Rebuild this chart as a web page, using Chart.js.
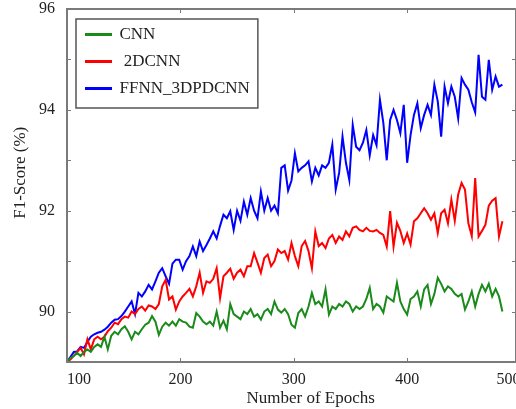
<!DOCTYPE html>
<html>
<head>
<meta charset="utf-8">
<script src="https://cdn.jsdelivr.net/npm/chart.js@4.4.1/dist/chart.umd.min.js"></script>
<style>
  html, body { margin: 0; padding: 0; background: #fff; overflow: hidden; }
  #wrap { position: relative; width: 516px; height: 409px; }
</style>
</head>
<body>
<div id="wrap"><canvas id="chart"></canvas></div>
<script>
const epochs = [
  100, 103, 106, 109, 112, 115, 118, 121, 124, 127,
  130, 133, 136, 139, 142, 145, 148, 151, 154, 157,
  160, 163, 166, 169, 172, 175, 178, 181, 184, 187,
  190, 193, 196, 199, 202, 205, 208, 211, 214, 217,
  220, 223, 226, 229, 232, 235, 238, 241, 244, 247,
  250, 253, 256, 259, 262, 265, 268, 271, 274, 277,
  280, 283, 286, 289, 292, 295, 298, 301, 304, 307,
  310, 313, 316, 319, 322, 325, 328, 331, 334, 337,
  340, 343, 346, 349, 352, 355, 358, 361, 364, 367,
  370, 373, 376, 379, 382, 385, 388, 391, 394, 397,
  400, 403, 406, 409, 412, 415, 418, 421, 424, 427,
  430, 433, 436, 439, 442, 445, 448, 451, 454, 457,
  460, 463, 466, 469, 472, 475, 478, 481, 484
];

const cnn = [
  89.0, 89.08, 89.12, 89.18, 89.12, 89.2, 89.25, 89.2, 89.3, 89.35,
  89.3, 89.5, 89.25, 89.52, 89.6, 89.55, 89.65, 89.71, 89.6, 89.45,
  89.6, 89.55, 89.65, 89.74, 89.78, 89.91, 89.8, 89.54, 89.7, 89.78,
  89.72, 89.8, 89.72, 89.85, 89.8, 89.78, 89.7, 89.68, 89.97, 89.9,
  89.8, 89.75, 89.8, 89.72, 90.0, 89.68, 89.82, 89.65, 90.15, 89.95,
  89.9, 89.85, 90.0, 89.95, 90.05, 89.9, 89.95, 89.84, 90.0, 90.05,
  89.95, 90.2, 90.04, 89.98, 90.05, 89.95, 89.74, 89.68, 89.97, 90.05,
  89.9, 90.1, 90.37, 90.15, 90.2, 90.1, 90.44, 89.94, 90.1, 90.05,
  90.15, 90.1, 90.2, 90.15, 90.0, 90.1, 90.05, 90.1, 90.25, 90.47,
  90.05, 90.15, 90.1, 89.98, 90.3, 90.25, 90.2, 90.57, 90.2, 90.05,
  89.94, 90.25, 90.3, 90.4, 90.1, 90.44, 90.53, 90.15, 90.35, 90.67,
  90.55, 90.4, 90.5, 90.45, 90.35, 90.3, 90.35, 90.04, 90.2, 90.4,
  90.1, 90.35, 90.53, 90.4, 90.55, 90.3, 90.45, 90.3, 90.0
];

const cnn2d = [
  89.0, 89.05, 89.12, 89.2, 89.28, 89.15, 89.45, 89.25, 89.45, 89.5,
  89.45, 89.5, 89.61, 89.68, 89.78, 89.75, 89.85, 89.9, 89.88, 90.0,
  89.95, 90.05, 90.1, 90.02, 90.12, 90.1, 90.05, 90.15, 90.5, 90.63,
  90.24, 90.3, 90.04, 90.2, 90.3, 90.37, 90.45, 90.3, 90.5, 90.77,
  90.37, 90.6, 90.57, 90.65, 90.86, 90.27, 90.7, 90.77, 90.85, 90.65,
  90.77, 90.83, 90.7, 90.9, 90.9, 91.16, 90.97, 90.77, 91.06, 91.13,
  90.9, 91.0, 91.23, 91.16, 91.2, 91.03, 91.36, 91.1, 90.9, 91.3,
  91.4, 91.2, 90.86, 91.59, 91.3, 91.36, 91.26, 91.45, 91.52, 91.36,
  91.49, 91.42, 91.59, 91.49, 91.66, 91.69, 91.62, 91.59, 91.66, 91.6,
  91.59, 91.62, 91.56, 91.52, 91.29, 91.99, 91.29, 91.76, 91.6, 91.36,
  91.55, 91.33, 91.79, 91.85, 91.95, 92.05, 91.95, 91.82, 91.95, 91.56,
  91.95, 92.02, 91.75, 92.22, 91.8, 92.32, 92.55, 92.42, 91.75, 91.5,
  92.65, 91.49, 91.6, 91.72, 92.1, 92.2, 92.25, 91.49, 91.79
];

const ffnn3d = [
  89.0, 89.1, 89.2, 89.21, 89.3, 89.28, 89.4, 89.5, 89.55, 89.58,
  89.6, 89.64, 89.7, 89.78, 89.84, 89.85, 89.91, 90.0, 90.1, 90.2,
  89.95, 90.37, 90.3, 90.4, 90.53, 90.44, 90.6, 90.77, 90.86, 90.7,
  90.55, 90.95, 91.03, 91.03, 90.83, 91.0, 91.1, 91.29, 91.1, 91.39,
  91.2, 91.32, 91.45, 91.59, 91.45, 91.7, 91.92, 91.85, 91.99, 91.62,
  92.0, 91.8, 92.18, 91.92, 92.25, 92.0, 91.85, 92.38, 92.0, 92.25,
  92.0, 92.1, 91.95, 92.85, 92.9, 92.4, 92.6, 93.14, 92.78, 92.85,
  92.9, 92.98, 92.58, 92.85, 92.7, 92.9, 92.85, 92.95, 93.31, 92.42,
  92.75, 93.47, 92.95, 92.61, 93.7, 93.27, 93.2, 93.35, 93.6, 93.1,
  93.5, 93.3, 94.2, 93.74, 93.0, 93.8, 94.0, 93.8, 93.54, 94.1,
  92.95, 93.5, 93.9, 94.13, 93.64, 93.9, 94.1, 93.9, 94.5, 94.17,
  93.47, 94.46, 94.13, 94.46, 94.26, 93.83, 94.63, 94.5, 94.4, 94.15,
  93.95, 95.09, 94.26, 94.2, 94.99, 94.4, 94.66, 94.46, 94.5
];

const xTicks = [100, 200, 300, 400, 500];
const seriesNames = ["CNN", " 2DCNN", "FFNN_3DPDCNN"];
const seriesColors = ["#1a8a1a", "#ff0000", "#0000ff"];

const serif = "'Liberation Serif', 'Times New Roman', serif";
const textColor = "#222";
const frameColor = "#7a7a7a";

function toPoints(values) {
  return epochs.map((e, i) => ({ x: e, y: values[i] }));
}

// frame round the plot, inward ticks, box round the legend
const framePlugin = {
  id: "frame",
  afterLayout(chart) {
    chart.legend.left += 9;
    chart.legend.top += 16;
  },
  beforeDraw(chart) {
    const boxes = chart.legend.legendHitBoxes;
    if (!boxes || !boxes.length) return;
    const ctx = chart.ctx;
    let right = 0;
    boxes.forEach(b => { right = Math.max(right, b.left + b.width); });
    const last = boxes[boxes.length - 1];
    const x0 = boxes[0].left - 10;
    const y0 = boxes[0].top - 7;
    const x1 = right + 8;
    const y1 = last.top + last.height + 11;
    ctx.save();
    ctx.fillStyle = "#fff";
    ctx.fillRect(x0, y0, x1 - x0, y1 - y0);
    ctx.strokeStyle = "#555";
    ctx.lineWidth = 1.5;
    ctx.strokeRect(x0, y0, x1 - x0, y1 - y0);
    ctx.restore();
  },
  afterDraw(chart) {
    const { ctx, chartArea: a, scales } = chart;
    ctx.save();
    ctx.strokeStyle = frameColor;
    ctx.lineWidth = 1;
    ctx.beginPath();
    scales.y.ticks.forEach(t => {
      const py = Math.round(scales.y.getPixelForValue(t.value)) + 0.5;
      if (py <= a.top + 1 || py >= a.bottom - 1) return;
      ctx.moveTo(a.left, py); ctx.lineTo(a.left + 4, py);
      ctx.moveTo(a.right, py); ctx.lineTo(a.right - 4, py);
    });
    scales.x.ticks.forEach(t => {
      const px = Math.round(scales.x.getPixelForValue(t.value)) + 0.5;
      if (px <= a.left + 1 || px >= a.right - 1) return;
      ctx.moveTo(px, a.bottom); ctx.lineTo(px, a.bottom - 4);
      ctx.moveTo(px, a.top); ctx.lineTo(px, a.top + 4);
    });
    ctx.stroke();
    ctx.lineWidth = 2;
    ctx.strokeRect(a.left, a.top, a.right - a.left, a.bottom - a.top);
    ctx.restore();
  }
};

const chart = new Chart(document.getElementById("chart"), {
  type: "line",
  data: {
    datasets: [cnn, cnn2d, ffnn3d].map((vals, i) => ({
      label: seriesNames[i],
      data: toPoints(vals),
      borderColor: seriesColors[i],
      backgroundColor: seriesColors[i],
      borderWidth: 2,
      pointRadius: 0,
      tension: 0
    }))
  },
  options: {
    responsive: true,
    maintainAspectRatio: false,
    animation: false,
    layout: { padding: { top: 9, right: 0, bottom: 0, left: 0 } },
    plugins: {
      tooltip: { enabled: false },
      legend: {
        position: "chartArea",
        align: "start",
        labels: {
          boxWidth: 25,
          boxHeight: 1,
          padding: 10,
          color: textColor,
          font: { family: serif, size: 17 }
        }
      }
    },
    scales: {
      x: {
        type: "linear",
        min: 100,
        max: 496,
        grid: { display: false, drawTicks: false },
        border: { display: false },
        ticks: {
          align: "inner",
          padding: 8,
          color: textColor,
          font: { family: serif, size: 16 },
          callback: v => String(v)
        },
        afterBuildTicks: s => { s.ticks = xTicks.map(v => ({ value: v })); },
        afterFit: s => { s.height = 47; s.paddingLeft = 0; s.paddingRight = 0; },
        title: {
          display: true,
          text: "         Number of Epochs",
          color: textColor,
          font: { family: serif, size: 17 },
          padding: { top: 0, bottom: 0 }
        }
      },
      y: {
        min: 89,
        max: 96,
        grid: { display: false, drawTicks: false },
        border: { display: false },
        ticks: {
          stepSize: 1,
          padding: 12,
          color: textColor,
          font: { family: serif, size: 16 },
          callback: v => (v % 2 === 0 ? String(v) : "")
        },
        afterFit: s => { s.width = 67; s.paddingTop = 0; s.paddingBottom = 0; },
        title: {
          display: true,
          text: "      F1-Score (%)",
          color: textColor,
          font: { family: serif, size: 17 },
          padding: { top: 10, bottom: 4 }
        }
      }
    }
  },
  plugins: [framePlugin]
});
</script>
</body>
</html>
